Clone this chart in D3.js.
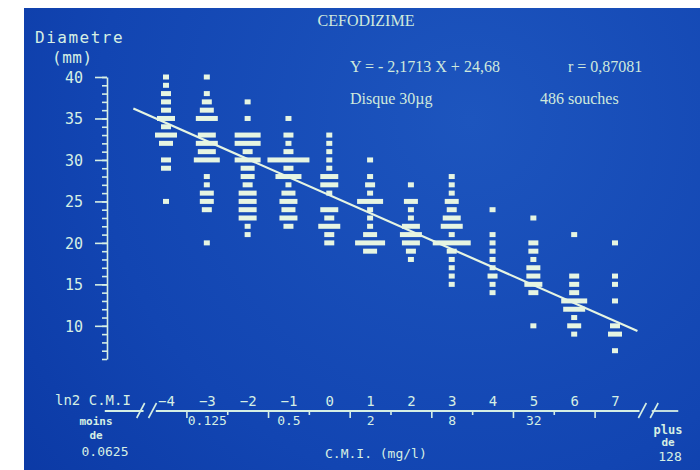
<!DOCTYPE html>
<meta charset="utf-8">
<script src="https://d3js.org/d3.v7.min.js"></script>
<style>
  body { margin: 0; background: #fff; }
  .plot text { font-family: "DejaVu Sans Mono", monospace; fill: #d6efe4; }
  .serif { font-family: "Liberation Serif", "Times New Roman", serif; fill: #cfe9dc; }
</style>
<div id="chart"></div>
<script>

// ln2 of the CMI classes (x axis)
var classes = [-4, -3, -2, -1, 0, 1, 2, 3, 4, 5, 6, 7];

// CMI (mg/l) printed under some classes
var cmiTicks = [-3, -1, 1, 3, 5];
var cmiLabels = ["0.125", "0.5", "2", "8", "32"];

// labelled diameters on the y axis
var diamTicks = [10, 15, 20, 25, 30, 35, 40];

// [diameter (mm), number of strains] for each class, same order as classes
var souches = [
  [[40,1],[39,1],[38,2],[37,2],[36,2],[35,4],[34,2],[33,5],[32,3],[30,2],[29,2],[25,1]],
  [[40,1],[38,1],[37,2],[36,3],[35,5],[33,4],[32,5],[31,4],[30,6],[28,1],[27,1],[26,3],[25,3],[24,2],[20,1]],
  [[37,1],[35,1],[33,6],[32,6],[31,2],[30,6],[29,3],[28,3],[27,2],[26,4],[25,4],[24,4],[23,4],[22,1],[21,1]],
  [[35,1],[33,2],[32,1],[31,2],[30,10],[29,2],[28,6],[27,1],[26,3],[25,4],[24,3],[23,4],[22,2]],
  [[33,1],[32,1],[31,1],[30,1],[29,1],[28,4],[27,4],[26,1],[24,4],[23,2],[22,5],[21,2],[20,2]],
  [[30,1],[28,1],[27,2],[26,1],[25,6],[24,1],[23,1],[22,1],[21,3],[20,7],[19,3]],
  [[27,1],[25,3],[24,1],[23,1],[22,4],[21,5],[20,4],[19,2],[18,1]],
  [[28,1],[27,1],[26,1],[25,3],[24,2],[23,4],[22,5],[21,1],[20,9],[19,2],[18,1],[17,1],[16,1],[15,1]],
  [[24,1],[21,1],[20,1],[19,1],[18,1],[17,1],[16,2],[15,1],[14,1]],
  [[23,1],[20,2],[19,2],[18,1],[17,3],[16,3],[15,4],[14,2],[10,1]],
  [[21,1],[16,2],[15,2],[14,2],[13,6],[12,5],[11,1],[10,3],[9,1]],
  [[20,1],[16,1],[15,1],[13,1],[10,2],[9,3],[7,1]]
];

// regression  Y = -2,1713 X + 24,68
var slope = -2.1713, intercept = 24.68;

var width = 700, height = 470;

var svg = d3.select("#chart")
  .append("svg")
    .attr("width", width)
    .attr("height", height);

// slide background
var grad = svg.append("defs").append("radialGradient")
    .attr("id", "bg")
    .attr("gradientUnits", "userSpaceOnUse")
    .attr("cx", 470).attr("cy", 120).attr("r", 620);
grad.append("stop").attr("offset", "0").attr("stop-color", "#1d55be");
grad.append("stop").attr("offset", "0.6").attr("stop-color", "#1245b2");
grad.append("stop").attr("offset", "1").attr("stop-color", "#0a37a2");

svg.append("rect").attr("width", width).attr("height", height).attr("fill", "#fff");
svg.append("rect")
    .attr("x", 24).attr("y", 8)
    .attr("width", width - 24).attr("height", height - 8)
    .attr("fill", "url(#bg)");

var g = svg.append("g").attr("class", "plot");

var x = d3.scaleLinear().domain([-4, 7]).range([166, 615]);
var y = d3.scaleLinear().domain([6, 40]).range([359, 77]);
var w = d3.scaleLinear().domain([0, 10]).range([2, 42]);

var ink = "#d6efe4";

// y axis: minor ticks every mm, major every 5
var yMinor = g.append("g")
    .attr("transform", "translate(107,0)")
    .call(d3.axisLeft(y).tickValues(d3.range(6, 41)).tickSize(5).tickSizeOuter(0).tickFormat(""));
var yMajor = g.append("g")
    .attr("transform", "translate(107,0)")
    .call(d3.axisLeft(y).tickValues(diamTicks).tickSize(12).tickPadding(12).tickSizeOuter(0));
yMajor.select(".domain").remove();
g.selectAll(".tick line, .domain").attr("stroke", ink).attr("stroke-width", 1.6);
yMajor.selectAll("text").style("font-size", "15px").attr("dy", "0.36em");

g.append("text").attr("x", 35).attr("y", 43)
    .style("font-size", "16px").style("letter-spacing", "1.5px").text("Diametre");
g.append("text").attr("x", 52).attr("y", 63)
    .style("font-size", "16px").style("letter-spacing", "0.5px").text("(mm)");

// x axis
var axisY = 411;
var xa = g.append("g").attr("transform", "translate(0," + axisY + ")");

xa.append("g")
    .call(d3.axisTop(x).tickValues(classes).tickSize(0).tickPadding(5))
    .call(function(s) { s.select(".domain").remove(); })
    .selectAll("text").style("font-size", "14px");

xa.append("g")
    .call(d3.axisBottom(x).tickValues([-3.5, -1.5, 0.5, 2.5, 4.5, 6.5]).tickSize(7).tickFormat(""))
    .call(function(s) { s.select(".domain").remove(); });
xa.append("g")
    .call(d3.axisBottom(x).tickValues([-2.5, -0.5, 1.5, 3.5, 5.5]).tickSize(4).tickFormat(""))
    .call(function(s) { s.select(".domain").remove(); });

xa.append("g")
    .call(d3.axisBottom(x).tickValues(cmiTicks).tickSize(0).tickPadding(5)
      .tickFormat(function(d, i) { return cmiLabels[i]; }))
    .call(function(s) { s.select(".domain").remove(); })
    .selectAll("text").style("font-size", "13px");

xa.selectAll("line").attr("stroke", ink).attr("stroke-width", 1.6);

// axis line with the two breaks
var segs = [[-5.5, -4.55], [-4.25, 7.6], [7.9, 8.55]];
segs.forEach(function(s) {
  xa.append("line")
    .attr("x1", x(s[0])).attr("x2", x(s[1]))
    .attr("stroke", ink).attr("stroke-width", 1.8);
});
[-4.62, -4.33, 7.67, 7.96].forEach(function(b) {
  xa.append("line")
    .attr("x1", x(b) - 4).attr("y1", 7)
    .attr("x2", x(b) + 4).attr("y2", -8)
    .attr("stroke", ink).attr("stroke-width", 1.6);
});

g.append("text").attr("x", 55).attr("y", 405).style("font-size", "14px").text("ln2 C.M.I");

g.append("text").attr("x", 96).attr("y", 425).attr("text-anchor", "middle").style("font-size", "11px").style("font-weight", "bold").text("moins");
g.append("text").attr("x", 96).attr("y", 439).attr("text-anchor", "middle").style("font-size", "11px").style("font-weight", "bold").text("de");
g.append("text").attr("x", 105).attr("y", 456).attr("text-anchor", "middle").style("font-size", "13px").text("0.0625");

g.append("text").attr("x", 668).attr("y", 434).attr("text-anchor", "middle").style("font-size", "12px").style("font-weight", "bold").text("plus");
g.append("text").attr("x", 668).attr("y", 446).attr("text-anchor", "middle").style("font-size", "11px").style("font-weight", "bold").text("de");
g.append("text").attr("x", 670).attr("y", 461).attr("text-anchor", "middle").style("font-size", "13px").text("128");

g.append("text").attr("x", 325).attr("y", 458).style("font-size", "13px").text("C.M.I. (mg/l)");

// bars: one per diameter, width ~ number of strains
var cols = g.selectAll(".col")
  .data(souches)
  .enter().append("g")
    .attr("class", "col")
    .attr("transform", function(d, i) { return "translate(" + x(classes[i]) + ",0)"; });

cols.selectAll("rect")
  .data(function(d) { return d; })
  .enter().append("rect")
    .attr("x", function(d) { return -w(d[1]) / 2; })
    .attr("y", function(d) { return y(d[0]) - 2.5; })
    .attr("width", function(d) { return w(d[1]); })
    .attr("height", 5)
    .attr("fill", "#e6f5e2");

// regression line (the classes sit half a step left of the X used in the fit)
var lineX = [-4.8, 7.55];
g.append("path")
    .datum(lineX)
    .attr("d", d3.line()
      .x(function(d) { return x(d); })
      .y(function(d) { return y(slope * (d - 0.5) + intercept); }))
    .attr("stroke", "#e6f5e2")
    .attr("stroke-width", 2.2)
    .attr("fill", "none");

// titles
svg.append("text").attr("class", "serif").attr("x", 366).attr("y", 26)
    .attr("text-anchor", "middle").style("font-size", "16px").text("CEFODIZIME");
svg.append("text").attr("class", "serif").attr("x", 350).attr("y", 72)
    .style("font-size", "16px").text("Y = - 2,1713 X + 24,68");
svg.append("text").attr("class", "serif").attr("x", 568).attr("y", 72)
    .style("font-size", "16px").text("r = 0,87081");
svg.append("text").attr("class", "serif").attr("x", 350).attr("y", 104)
    .style("font-size", "16px").text("Disque 30µg");
svg.append("text").attr("class", "serif").attr("x", 540).attr("y", 104)
    .style("font-size", "16px").text("486 souches");

</script>
